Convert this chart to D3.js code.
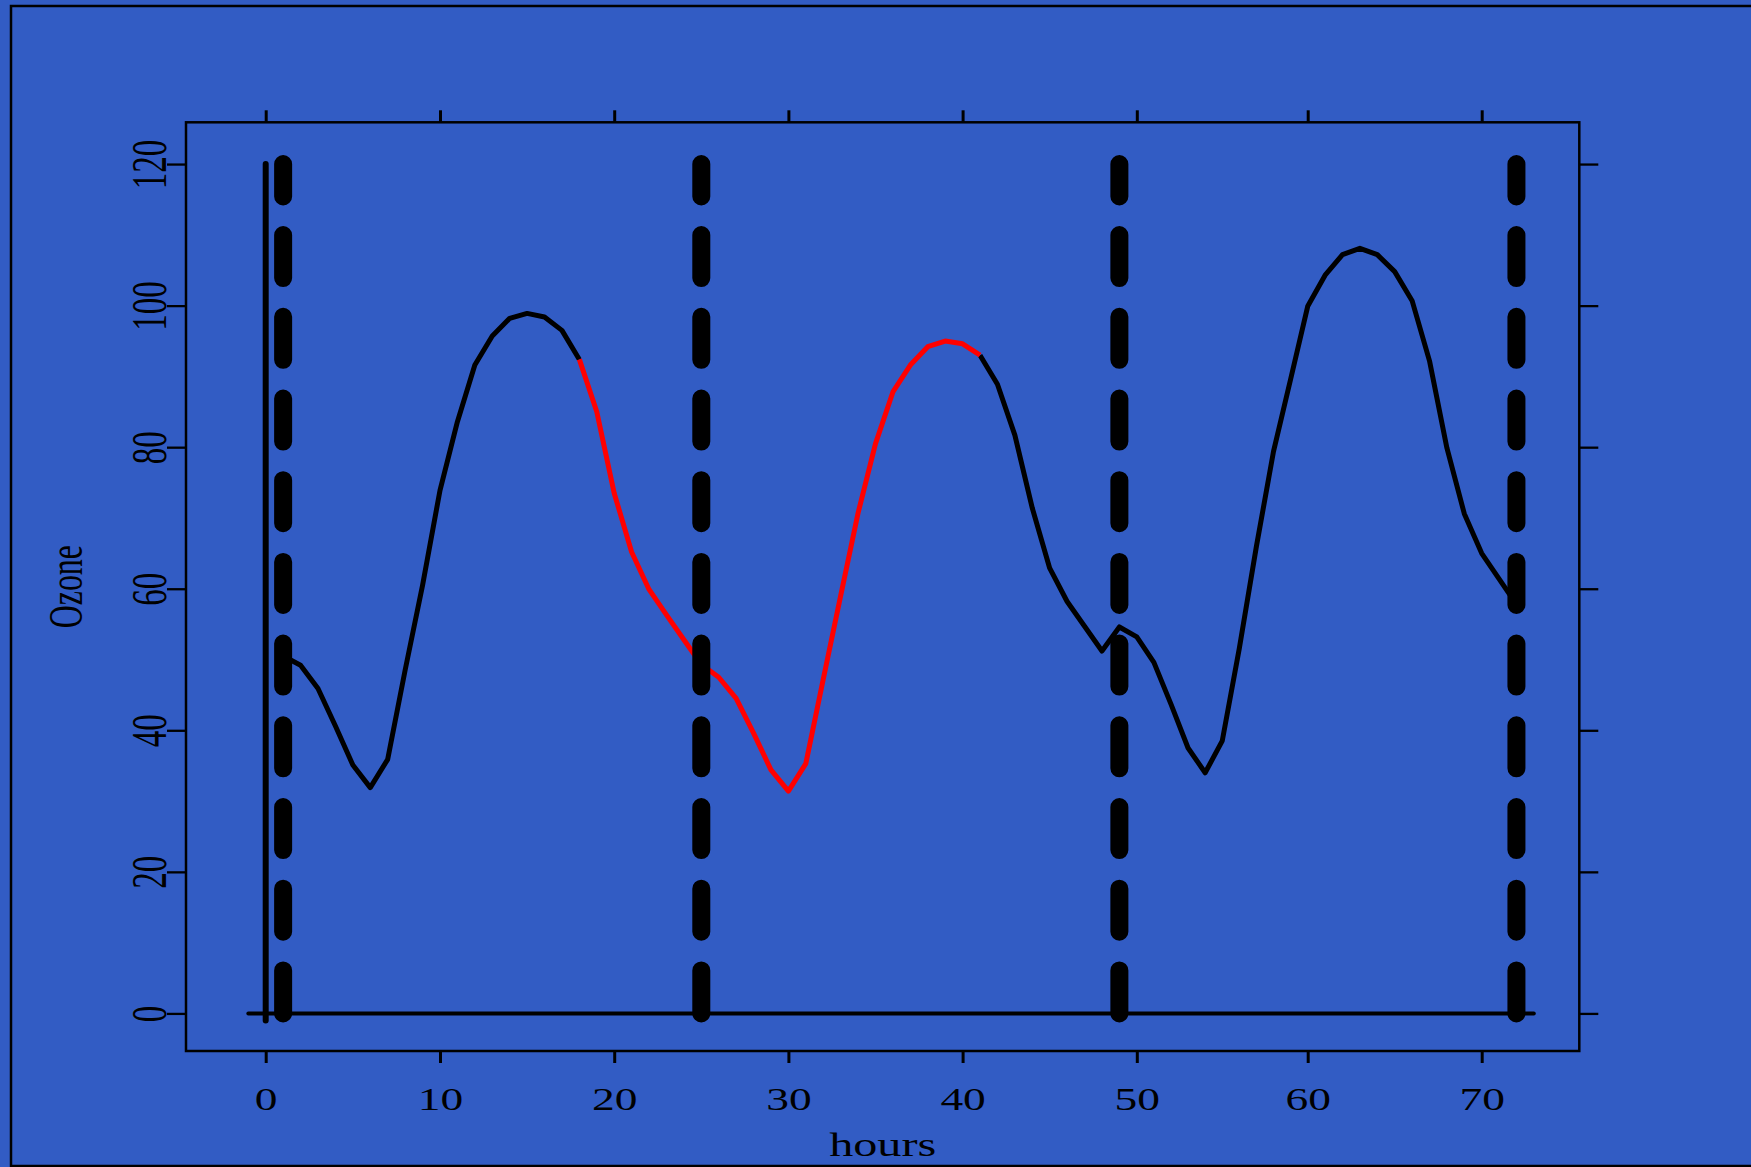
<!DOCTYPE html>
<html>
<head>
<meta charset="utf-8">
<script src="https://cdn.jsdelivr.net/npm/d3@7"></script>
<style>
  html, body { margin: 0; padding: 0; background: #325cc4; }
  svg { display: block; }
  text { font-family: "Liberation Serif", "Times New Roman", serif; fill: #000; }
</style>
</head>
<body>
<svg id="chart" width="1751" height="1167"></svg>
<script>
// hourly ozone readings, hour 1 .. 72
const ozone = [
    50.5, 49.2, 45.9, 40.6, 35.1, 31.9, 35.9, 48.5, 60.5, 73.9, 83.6, 91.6,
    95.7, 98.2, 98.9, 98.4, 96.5, 92.4, 85.0, 73.5, 65.2, 59.9, 56.3, 52.8,
    49.3, 47.5, 44.5, 39.6, 34.4, 31.4, 35.3, 47.2, 59.0, 70.7, 80.5, 87.8,
    91.6, 94.2, 95.0, 94.6, 93.0, 88.9, 81.7, 71.4, 62.9, 58.2, 54.7, 51.2,
    54.6, 53.2, 49.6, 43.7, 37.5, 34.0, 38.5, 51.6, 66.0, 79.4, 89.6, 99.9,
    104.3, 107.2, 108.1, 107.2, 104.8, 100.7, 92.2, 79.9, 70.6, 65.0, 61.4, 57.8
]
const hours = ozone.map((_, i) => i + 1)

const highlight = [18, 41]          // hours drawn in red
const dayMarks = [1, 25, 49, 72]    // thick dashed verticals
const xTicks = [0, 10, 20, 30, 40, 50, 60, 70]
const yTicks = [0, 20, 40, 60, 80, 100, 120]

const svg = d3.select("#chart")
const blue = "#325cc4"

svg.append("rect")
    .attr("width", 1751).attr("height", 1167)
    .attr("fill", blue)

// figure frame (runs off the right edge)
svg.append("rect")
    .attr("x", 11).attr("y", 6)
    .attr("width", 1800).attr("height", 1160)
    .attr("fill", "none").attr("stroke", "#000").attr("stroke-width", 2.5)

// the original raster is not quite evenly spaced, so pin the scale at each tick
const x = d3.scaleLinear(
    [-4.59, 0, 10, 20, 30, 40, 50, 60, 70, 75.62],
    [186, 265.7, 440, 614.2, 788.4, 962.6, 1136.8, 1307.7, 1481.7, 1579.3])
const y = d3.scaleLinear([-5.31, 125.9], [1051, 122.3])

const plotLeft = 186, plotRight = 1579.3, plotTop = 122.3, plotBottom = 1051

// plot box
svg.append("rect")
    .attr("x", plotLeft).attr("y", plotTop)
    .attr("width", plotRight - plotLeft)
    .attr("height", plotBottom - plotTop)
    .attr("fill", "none").attr("stroke", "#000").attr("stroke-width", 2.5)

const styleAxis = (g, w) => {
    g.select(".domain").remove()
    g.selectAll(".tick line").attr("stroke", "#000").attr("stroke-width", w)
}

svg.append("g")
    .attr("transform", `translate(0, ${plotBottom})`)
    .call(d3.axisBottom(x).tickValues(xTicks).tickSize(12))
    .call(g => styleAxis(g, 3))
    .call(g => g.selectAll(".tick text")
        .attr("y", null).attr("dy", null)
        .attr("font-size", 32)
        .attr("transform", "translate(0, 59) scale(1.42, 1)"))

svg.append("g")
    .attr("transform", `translate(0, ${plotTop})`)
    .call(d3.axisTop(x).tickValues(xTicks).tickSize(12).tickFormat(""))
    .call(g => styleAxis(g, 3))

svg.append("g")
    .attr("transform", `translate(${plotLeft}, 0)`)
    .call(d3.axisLeft(y).tickValues(yTicks).tickSize(19))
    .call(g => styleAxis(g, 2.3))
    .call(g => g.selectAll(".tick text")
        .attr("x", null).attr("dy", null)
        .attr("text-anchor", "middle")
        .attr("font-size", 33)
        .attr("transform", "translate(-20, 0) scale(1.52, 1) rotate(-90)"))

svg.append("g")
    .attr("transform", `translate(${plotRight}, 0)`)
    .call(d3.axisRight(y).tickValues(yTicks).tickSize(19).tickFormat(""))
    .call(g => styleAxis(g, 2.3))

svg.append("text")
    .attr("text-anchor", "middle")
    .attr("font-size", 33)
    .attr("transform", `translate(${(plotLeft + plotRight) / 2}, 1156) scale(1.46, 1)`)
    .text("hours")

svg.append("text")
    .attr("text-anchor", "middle")
    .attr("font-size", 31.8)
    .attr("transform", `translate(81.7, ${(plotTop + plotBottom) / 2}) scale(1.52, 1) rotate(-90)`)
    .text("Ozone")

const line = d3.line().x(d => x(d[0])).y(d => y(d[1]))

// reference lines at zero
svg.append("path")
    .attr("d", line([[-1, 0], [73, 0]]))
    .attr("stroke", "#000").attr("stroke-width", 4)
    .attr("stroke-linecap", "round").attr("fill", "none")

svg.append("path")
    .attr("d", line([[0, -1], [0, 120]]))
    .attr("stroke", "#000").attr("stroke-width", 6)
    .attr("stroke-linecap", "round").attr("fill", "none")

// ozone curve, black outside highlight, red inside
const pts = hours.map((h, i) => [h, ozone[i]])
const segments = [
    {data: pts.filter(d => d[0] <= highlight[0]), color: "#000"},
    {data: pts.filter(d => d[0] >= highlight[1]), color: "#000"},
    {data: pts.filter(d => d[0] >= highlight[0] && d[0] <= highlight[1]), color: "#ff0000"},
]

svg.append("g")
    .selectAll("path")
    .data(segments)
    .join("path")
    .attr("d", d => line(d.data))
    .attr("stroke", d => d.color)
    .attr("stroke-width", 5)
    .attr("stroke-linejoin", "round")
    .attr("fill", "none")

// day boundaries
svg.append("g")
    .selectAll("path")
    .data(dayMarks)
    .join("path")
    .attr("d", d => line([[d, 0], [d, 120]]))
    .attr("stroke", "#000")
    .attr("stroke-width", 18)
    .attr("stroke-linecap", "round")
    .attr("stroke-dasharray", "43,38.7")
    .attr("fill", "none")
</script>
</body>
</html>
